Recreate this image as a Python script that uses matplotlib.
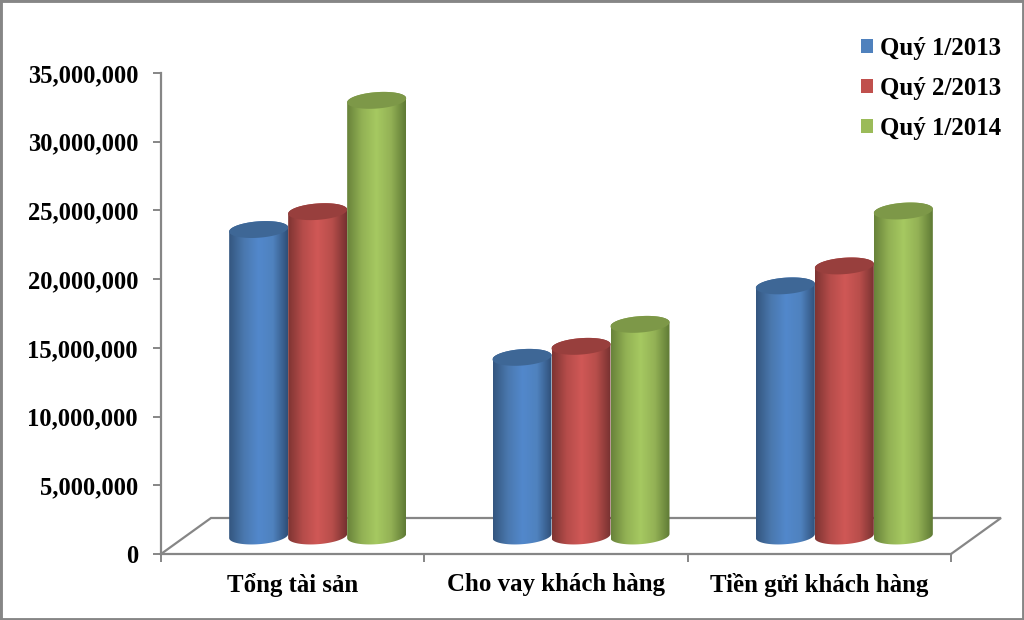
import numpy as np
import matplotlib
matplotlib.use("Agg")
import matplotlib.pyplot as plt
from matplotlib.colors import LinearSegmentedColormap
from matplotlib.patches import PathPatch, Rectangle
from matplotlib.path import Path
from matplotlib.ticker import MultipleLocator, FuncFormatter

categories = ["Tổng tài sản", "Cho vay khách hàng", "Tiền gửi khách hàng"]
series_names = ["Quý 1/2013", "Quý 2/2013", "Quý 1/2014"]
q1_2013 = [22300000, 13000000, 18200000]
q2_2013 = [23600000, 13800000, 19650000]
q1_2014 = [31700000, 15400000, 23650000]
series_values = [q1_2013, q2_2013, q1_2014]

legend_colors = ["#4F81BD", "#C0504D", "#9BBB59"]
grad_stops = [
    ["#34567F", "#4A78AE", "#5288CC", "#4F82BE", "#2F4F78"],
    ["#7E3432", "#B54C4A", "#D05856", "#B84E4B", "#763130"],
    ["#68823A", "#92B154", "#A6C961", "#93B155", "#5F7A35"],
]
top_colors = ["#3E6796", "#983F3D", "#7D9848"]
GRAY = "#868686"
FONT = "Liberation Serif"
FS = 17.9

W, H = 1024, 620
fig = plt.figure(figsize=(W / 100, H / 100), dpi=100, facecolor="white")
L, R, T, B = 161, 951, 73, 554
ax = fig.add_axes([L / W, 1 - B / H, (R - L) / W, (B - T) / H])
ax.patch.set_alpha(0)
XMAX, YMAX = 3, 35000000
PX, PY = XMAX / (R - L), YMAX / (B - T)

for s in ("top", "right"):
    ax.spines[s].set_visible(False)
for s in ("left", "bottom"):
    ax.spines[s].set_color(GRAY)
    ax.spines[s].set_linewidth(1.6)

# floor of the 3D box
DX, DY = 50 * PX, 36 * PY
ax.plot([0, DX, XMAX + DX, XMAX], [0, DY, DY, 0], color=GRAY, lw=1.6,
        clip_on=False, zorder=1, solid_joinstyle="miter")


def ell(cx, cy, t):
    a, b, slope = 29.5, 8.2, 0.07
    xs = cx + a * PX * np.cos(t)
    ys = cy + (b * np.sin(t) + a * slope * np.cos(t)) * PY
    return xs, ys


for si, vals in enumerate(series_values):
    cmap = LinearSegmentedColormap.from_list("c%d" % si, grad_stops[si])
    grad = np.linspace(0, 1, 128)[None, :]
    for ci, v in enumerate(vals):
        cx = ci + 0.5 + 25 * PX + (si - 1) * 59 * PX
        base = 18 * PY
        top = base + v
        tb = np.linspace(np.pi, 2 * np.pi, 60)
        tt = np.linspace(0, np.pi, 60)
        xb, yb = ell(cx, base, tb)
        xt, yt = ell(cx, top, tt)
        body = np.column_stack([np.r_[xb, xt, xb[0]], np.r_[yb, yt, yb[0]]])
        clip = PathPatch(Path(body), transform=ax.transData, fc="none", ec="none")
        ax.add_patch(clip)
        im = ax.imshow(grad, cmap=cmap, aspect="auto", interpolation="bilinear",
                       extent=[cx - 29.5 * PX, cx + 29.5 * PX, base - 12 * PY, top + 12 * PY],
                       zorder=3 + si)
        im.set_clip_path(clip)
        xe, ye = ell(cx, top, np.linspace(0, 2 * np.pi, 90))
        ax.fill(xe, ye, color=top_colors[si], lw=0, zorder=3 + si, clip_on=False)

ax.set_xlim(0, XMAX)
ax.set_ylim(0, YMAX)
ax.yaxis.set_major_locator(MultipleLocator(5000000))
ax.yaxis.set_major_formatter(FuncFormatter(lambda v, _: f"{int(v):,}"))
ax.set_xticks(range(XMAX + 1))
ax.set_xticklabels([])
ax.set_xticks(np.arange(len(categories)) + 0.5, minor=True)
ax.set_xticklabels(categories, minor=True)
ax.tick_params(axis="x", which="minor", length=0, pad=14)
ax.tick_params(axis="x", which="major", length=5.5, width=1.4, color=GRAY)
ax.tick_params(axis="y", length=5.5, width=1.4, color=GRAY, pad=11)
for lab in ax.get_xticklabels(minor=True):
    lab.set_fontfamily(FONT)
    lab.set_fontweight("bold")
    lab.set_fontsize(FS)
for lab in ax.get_yticklabels():
    lab.set_fontfamily(FONT)
    lab.set_fontweight("bold")
    lab.set_fontsize(17.7)

# legend
handles = [Rectangle((0, 0), 1, 1, fc=c, ec="none") for c in legend_colors]
leg = fig.legend(handles, series_names, loc="upper right", bbox_to_anchor=(1001 / W, 1 - 37 / H),
                 frameon=False, handlelength=0.48, handleheight=0.48, handletextpad=0.28,
                 labelspacing=0.68, borderpad=0, borderaxespad=0,
                 prop={"family": FONT, "weight": "bold", "size": FS})

# chart-area border
fig.add_artist(Rectangle((0, 0), 1, 1, transform=fig.transFigure, fc="none", ec=GRAY, lw=3.5))

fig.savefig("out.png", dpi=100, facecolor="white")
